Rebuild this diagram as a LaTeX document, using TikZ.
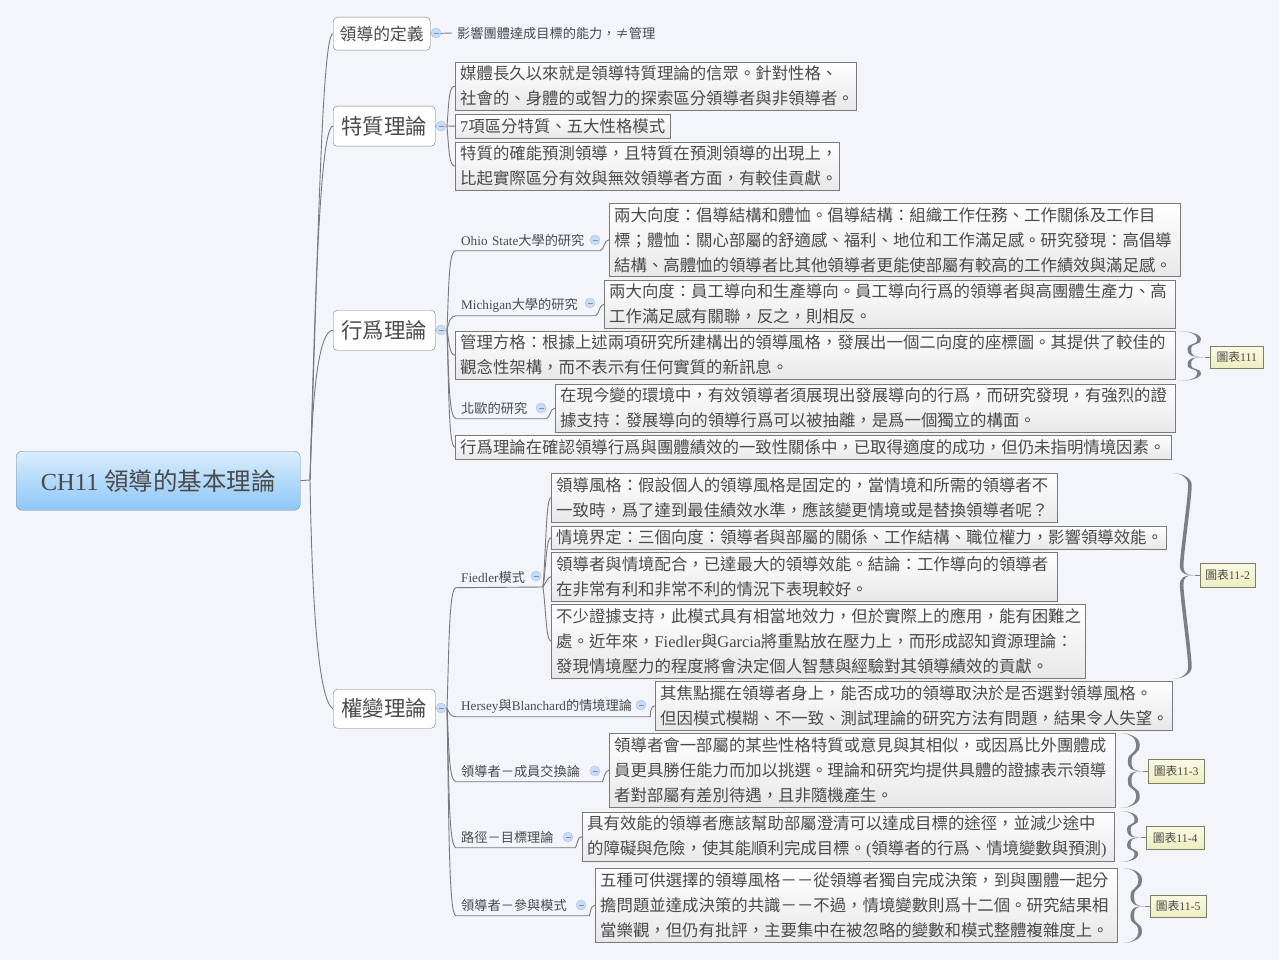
\documentclass[tikz,border=0pt]{standalone}
\usepackage{fontspec}
\usepackage{xcolor}
\usetikzlibrary{arrows.meta,positioning,calc}
\setmainfont{Noto Sans CJK TC}
\newfontfamily\latinfont{Liberation Serif}
\newcommand{\lat}[1]{{\latinfont #1}}
\definecolor{mybg}{HTML}{F3F5FA}
\definecolor{myink}{HTML}{4A4A4A}
\definecolor{myline}{HTML}{7A7A7A}
\definecolor{mybrace}{HTML}{7F7F7F}
\definecolor{rootedge}{HTML}{6F8AA0}
\definecolor{roottop}{HTML}{DAEEFC}
\definecolor{rootbot}{HTML}{8EC6F7}
\definecolor{notetop}{HTML}{FAFAE4}
\definecolor{notebot}{HTML}{EDEDC2}
\definecolor{noteedge}{HTML}{7E7E66}
\definecolor{markfill}{HTML}{C9DBF5}
\definecolor{markedge}{HTML}{A9C3E6}
\definecolor{markbar}{HTML}{6F93C4}
% curly brace from two end points to a note
\newcommand{\curly}[3]{
    \fill[mybrace] let \p1=(#1), \p2=(#2), \p3=(#3.west),
        \n1={\x1+0.78*(\x3-5pt-\x1)}, \n2={\x1+0.42*(\x3-5pt-\x1)},
        \n3={min(12,0.3*(\y1-\y3))*1pt}, \n4={min(10,0.3*(\y1-\y3))*1pt},
        \n5={min(12,0.3*(\y3-\y2))*1pt}, \n6={min(10,0.3*(\y3-\y2))*1pt},
        \n7={\x1+0.55*(\n1-\x1)} in
        (\x1,\y1) .. controls (\n7,\y1) and (\n1+1.8pt,\y1-0.4*\n3) .. (\n1+1.8pt,\y1-\n3)
        .. controls (\n1+1.8pt,\y1-2*\n3) and (\n2+1.8pt,\y3+2*\n4) .. (\n2+1.8pt,\y3+\n4)
        .. controls (\n2+1.8pt,\y3+0.3*\n4) and (\n2+3pt,\y3) .. (\x3-5pt,\y3)
        .. controls (\n2+3pt,\y3) and (\n2+1.8pt,\y3-0.3*\n6) .. (\n2+1.8pt,\y3-\n6)
        .. controls (\n2+1.8pt,\y3-2*\n6) and (\n1+1.8pt,\y2+2*\n5) .. (\n1+1.8pt,\y2+\n5)
        .. controls (\n1+1.8pt,\y2+0.4*\n5) and (\n7,\y2) .. (\x2,\y2)
        .. controls (\n7-1pt,\y2) and (\n1-1.8pt,\y2+0.4*\n5) .. (\n1-1.8pt,\y2+\n5)
        .. controls (\n1-1.8pt,\y2+2*\n5) and (\n2-1.8pt,\y3-2*\n6) .. (\n2-1.8pt,\y3-\n6)
        .. controls (\n2-1.8pt,\y3-0.3*\n6) and (\n2+1pt,\y3) .. (\x3-5pt,\y3)
        .. controls (\n2+1pt,\y3) and (\n2-1.8pt,\y3+0.3*\n4) .. (\n2-1.8pt,\y3+\n4)
        .. controls (\n2-1.8pt,\y3+2*\n4) and (\n1-1.8pt,\y1-2*\n3) .. (\n1-1.8pt,\y1-\n3)
        .. controls (\n1-1.8pt,\y1-0.4*\n3) and (\n7-1pt,\y1) .. (\x1,\y1) -- cycle;
}
\begin{document}
\begin{tikzpicture}[
    x=1pt,y=-1pt,
    myroot/.style={
    draw=rootedge,
    rounded corners=6pt,
    top color=roottop,
    bottom color=rootbot,
    text=myink,
    inner sep=0pt,
    anchor=north west,
    minimum width=284,
    minimum height=59,
    font=\fontsize{24.5}{30}\selectfont},
    mytopic/.style={
    draw=myline,
    fill=white,
    rounded corners=4pt,
    text=myink,
    inner sep=0pt,
    anchor=north west},
    mytext/.style={
    draw=myline,
    top color=white,
    bottom color=black!9,
    text=myink,
    inner xsep=5pt,
    inner ysep=0pt,
    align=left,
    anchor=north west,
    font=\fontsize{16.4}{25}\selectfont},
    mylabel/.style={
    text=myink,
    inner xsep=5pt,
    inner ysep=0pt,
    minimum height=21,
    align=left,
    anchor=west,
    font=\fontsize{13.2}{15}\selectfont},
    mynote/.style={
    draw=noteedge,
    top color=notetop,
    bottom color=notebot,
    text=myink,
    inner sep=0pt,
    anchor=north west,
    font=\fontsize{11.8}{14}\selectfont},
    mymarker/.style={
    circle,
    draw=markedge,
    fill=markfill,
    inner sep=0pt,
    minimum size=10pt,
    path picture={\draw[markbar,line width=0.8pt]
        ([xshift=2.5pt]path picture bounding box.west) -- ([xshift=-2.5pt]path picture bounding box.east);}},
    mylink/.style={draw=myline,line width=0.9pt},
    ]
    \useasboundingbox[fill=mybg] (0,0) rectangle (1279,960);

    \node[myroot] (root) at (16,451) {\lat{CH11} 領導的基本理論};
    \coordinate (hub) at (310,480);

    \node[mytopic,minimum width=97,minimum height=33,font=\fontsize{16.8}{20}\selectfont] (lead) at (333,17) {領導的定義};
    \node[mytopic,minimum width=102,minimum height=40,font=\fontsize{21.4}{26}\selectfont] (trait) at (333,106) {特質理論};
    \node[mytopic,minimum width=102,minimum height=40,font=\fontsize{21.4}{26}\selectfont] (behav) at (333,310) {行爲理論};
    \node[mytopic,minimum width=102,minimum height=39,font=\fontsize{21.4}{26}\selectfont] (cont) at (333,689) {權變理論};

    \node[mylabel] (leadtxt) at (452,33) {影響團體達成目標的能力，≠管理};

    % trait theory
    \node[mytext,text width=391pt,minimum height=48] (t1) at (455,62) {媒體長久以來就是領導特質理論的信眾。針對性格、\\社會的、身體的或智力的探索區分領導者與非領導者。};
    \node[mytext,text width=205pt,minimum height=24] (t2) at (455,114) {\lat{7}項區分特質、五大性格模式};
    \node[mytext,text width=374pt,minimum height=48] (t3) at (455,142) {特質的確能預測領導，且特質在預測領導的出現上，\\比起實際區分有效與無效領導者方面，有較佳貢獻。};
    \coordinate (traithub) at (447,126);

    % behavior theory
    \node[mylabel,text width=134pt] (ohio) at (456,240) {\lat{Ohio State}大學的研究};
    \node[mytext,text width=561pt,minimum height=73] (b1) at (609,203) {兩大向度：倡導結構和體恤。倡導結構：組織工作任務、工作關係及工作目\\標；體恤：關心部屬的舒適感、福利、地位和工作滿足感。研究發現：高倡導\\結構、高體恤的領導者比其他領導者更能使部屬有較高的工作績效與滿足感。};
    \node[mylabel,text width=129pt] (mich) at (456,305) {\lat{Michigan}大學的研究};
    \node[mytext,text width=561pt,minimum height=48] (b2) at (604,280) {兩大向度：員工導向和生產導向。員工導向行爲的領導者與高團體生產力、高\\工作滿足感有關聯，反之，則相反。};
    \node[mytext,text width=710pt,minimum height=48] (b3) at (455,331) {管理方格：根據上述兩項研究所建構出的領導風格，發展出一個二向度的座標圖。其提供了較佳的\\觀念性架構，而不表示有任何實質的新訊息。};
    \node[mylabel,text width=80pt] (north) at (456,408) {北歐的研究};
    \node[mytext,text width=610pt,minimum height=48] (b4) at (555,384) {在現今變的環境中，有效領導者須展現出發展導向的行爲，而研究發現，有強烈的證\\據支持：發展導向的領導行爲可以被抽離，是爲一個獨立的構面。};
    \node[mytext,text width=706pt,minimum height=24] (b5) at (455,435) {行爲理論在確認領導行爲與團體績效的一致性關係中，已取得適度的成功，但仍未指明情境因素。};
    \node[mynote,minimum width=53,minimum height=22] (n1) at (1210,346) {圖表\lat{111}};
    \coordinate (behavhub) at (447,330);

    % contingency theory
    \node[mylabel,text width=80pt] (fied) at (456,577) {\lat{Fiedler}模式};
    \node[mytext,text width=496pt,minimum height=49] (f1) at (551,473) {領導風格：假設個人的領導風格是固定的，當情境和所需的領導者不\\一致時，爲了達到最佳績效水準，應該變更情境或是替換領導者呢？};
    \node[mytext,text width=605pt,minimum height=23] (f2) at (551,526) {情境界定：三個向度：領導者與部屬的關係、工作結構、職位權力，影響領導效能。};
    \node[mytext,text width=496pt,minimum height=49] (f3) at (551,552) {領導者與情境配合，已達最大的領導效能。結論：工作導向的領導者\\在非常有利和非常不利的情況下表現較好。};
    \node[mytext,text width=524pt,minimum height=74] (f4) at (551,604) {不少證據支持，此模式具有相當地效力，但於實際上的應用，能有困難之\\處。近年來，\lat{Fiedler}與\lat{Garcia}將重點放在壓力上，而形成認知資源理論：\\發現情境壓力的程度將會決定個人智慧與經驗對其領導績效的貢獻。};
    \node[mynote,minimum width=55,minimum height=24] (n2) at (1200,563) {圖表\lat{11-2}};
    \node[mylabel,text width=184pt] (hers) at (456,706) {\lat{Hersey}與\lat{Blanchard}的情境理論};
    \node[mytext,text width=507pt,minimum height=49] (c1) at (655,681) {其焦點擺在領導者身上，能否成功的領導取決於是否選對領導風格。\\但因模式模糊、不一致、測試理論的研究方法有問題，結果令人失望。};
    \node[mylabel,text width=136pt] (lmx) at (456,771) {領導者－成員交換論};
    \node[mytext,text width=496pt,minimum height=74] (c2) at (609,733) {領導者會一部屬的某些性格特質或意見與其相似，或因爲比外團體成\\員更具勝任能力而加以挑選。理論和研究均提供具體的證據表示領導\\者對部屬有差別待遇，且非隨機產生。};
    \node[mynote,minimum width=56,minimum height=24] (n3) at (1148,759) {圖表\lat{11-3}};
    \node[mylabel,text width=109pt] (path) at (456,837) {路徑－目標理論};
    \node[mytext,text width=522pt,minimum height=49] (c3) at (582,812) {具有效能的領導者應該幫助部屬澄清可以達成目標的途徑，並減少途中\\的障礙與危險，使其能順利完成目標。\lat{(}領導者的行爲、情境變數與預測\lat{)}};
    \node[mynote,minimum width=58,minimum height=23] (n4) at (1146,826) {圖表\lat{11-4}};
    \node[mylabel,text width=123pt] (part) at (456,905) {領導者－參與模式};
    \node[mytext,text width=512pt,minimum height=74] (c4) at (595,868) {五種可供選擇的領導風格－－從領導者獨自完成決策，到與團體一起分\\擔問題並達成決策的共識－－不過，情境變數則爲十二個。研究結果相\\當樂觀，但仍有批評，主要集中在被忽略的變數和模式整體複雜度上。};
    \node[mynote,minimum width=56,minimum height=22] (n5) at (1150,895) {圖表\lat{11-5}};
    \coordinate (conthub) at (447,708);
    \coordinate (fiedhub) at (543,587);

    % links from the root
    \draw[mylink] (root.east) -- (hub);
    \draw[mylink] (hub) .. controls (318,250) and (322,33) .. (lead.west);
    \draw[mylink] (hub) .. controls (315,300) and (320,126) .. (trait.west);
    \draw[mylink] (hub) .. controls (312,400) and (318,330) .. (behav.west);
    \draw[mylink] (hub) .. controls (312,600) and (318,700) .. (cont.west);

    % links of the branches
    \draw[mylink] (lead.east) -- (leadtxt.west);
    \draw[mylink] (trait.east) -- (traithub);
    \draw[mylink] (traithub) .. controls (449,100) and (449,86) .. (t1.west);
    \draw[mylink] (traithub) -- (t2.west);
    \draw[mylink] (traithub) .. controls (449,150) and (449,166) .. (t3.west);

    \draw[mylink] (behav.east) -- (behavhub);
    \draw[mylink] (behavhub) .. controls (449,280) and (449,250) .. (ohio.south west) -- (ohio.south east) .. controls (604,250) and (604,240) .. (b1.west);
    \draw[mylink] (behavhub) .. controls (449,322) and (450,316) .. (mich.south west) -- (mich.south east) .. controls (599,316) and (599,304) .. (b2.west);
    \draw[mylink] (behavhub) .. controls (449,340) and (449,355) .. (b3.west);
    \draw[mylink] (behavhub) .. controls (449,380) and (449,418) .. (north.south west) -- (north.south east) .. controls (550,418) and (550,408) .. (b4.west);
    \draw[mylink] (behavhub) .. controls (449,400) and (449,447) .. (b5.west);

    \draw[mylink] (cont.east) -- (conthub);
    \draw[mylink] (conthub) .. controls (449,650) and (449,587) .. (fied.south west) -- (fiedhub);
    \draw[mylink] (fiedhub) .. controls (546,550) and (546,497) .. (f1.west);
    \draw[mylink] (fiedhub) .. controls (546,570) and (546,537) .. (f2.west);
    \draw[mylink] (fiedhub) .. controls (546,582) and (548,577) .. (f3.west);
    \draw[mylink] (fiedhub) .. controls (546,610) and (546,641) .. (f4.west);
    \draw[mylink] (conthub) .. controls (449,712) and (450,717) .. (hers.south west) -- (hers.south east) .. controls (650,717) and (650,705) .. (c1.west);
    \draw[mylink] (conthub) .. controls (449,750) and (449,781) .. (lmx.south west) -- (lmx.south east) .. controls (604,781) and (604,770) .. (c2.west);
    \draw[mylink] (conthub) .. controls (449,790) and (449,847) .. (path.south west) -- (path.south east) .. controls (577,847) and (577,836) .. (c3.west);
    \draw[mylink] (conthub) .. controls (449,830) and (449,916) .. (part.south west) -- (part.south east) .. controls (590,916) and (590,905) .. (c4.west);

    % braces
    \coordinate (n1t) at (1178,331);
    \coordinate (n1b) at (1178,381);
    \coordinate (n2t) at (1172,473);
    \coordinate (n2b) at (1172,679);
    \coordinate (n3t) at (1120,733);
    \coordinate (n3b) at (1120,808);
    \coordinate (n4t) at (1120,811);
    \coordinate (n4b) at (1120,862);
    \coordinate (n5t) at (1123,868);
    \coordinate (n5b) at (1123,943);
    \curly{n1t}{n1b}{n1}
    \curly{n2t}{n2b}{n2}
    \curly{n3t}{n3b}{n3}
    \curly{n4t}{n4b}{n4}
    \curly{n5t}{n5b}{n5}
    \draw[mybrace,line width=0.8pt] ($(n1.west)+(-5,0)$) -- (n1.west);
    \draw[mybrace,line width=0.8pt] ($(n2.west)+(-5,0)$) -- (n2.west);
    \draw[mybrace,line width=0.8pt] ($(n3.west)+(-5,0)$) -- (n3.west);
    \draw[mybrace,line width=0.8pt] ($(n4.west)+(-5,0)$) -- (n4.west);
    \draw[mybrace,line width=0.8pt] ($(n5.west)+(-5,0)$) -- (n5.west);

    % collapse markers
    \node[mymarker] (m1) at (436,33) {};
    \node[mymarker] (m2) at (441,126) {};
    \node[mymarker] (m3) at (441,330) {};
    \node[mymarker] (m4) at (441,708) {};
    \node[mymarker] (m5) at (595,240) {};
    \node[mymarker] (m6) at (590,303) {};
    \node[mymarker] (m7) at (541,408) {};
    \node[mymarker] (m8) at (536,576) {};
    \node[mymarker] (m9) at (641,705) {};
    \node[mymarker] (m10) at (595,771) {};
    \node[mymarker] (m11) at (568,837) {};
    \node[mymarker] (m12) at (581,905) {};
\end{tikzpicture}
\end{document}
